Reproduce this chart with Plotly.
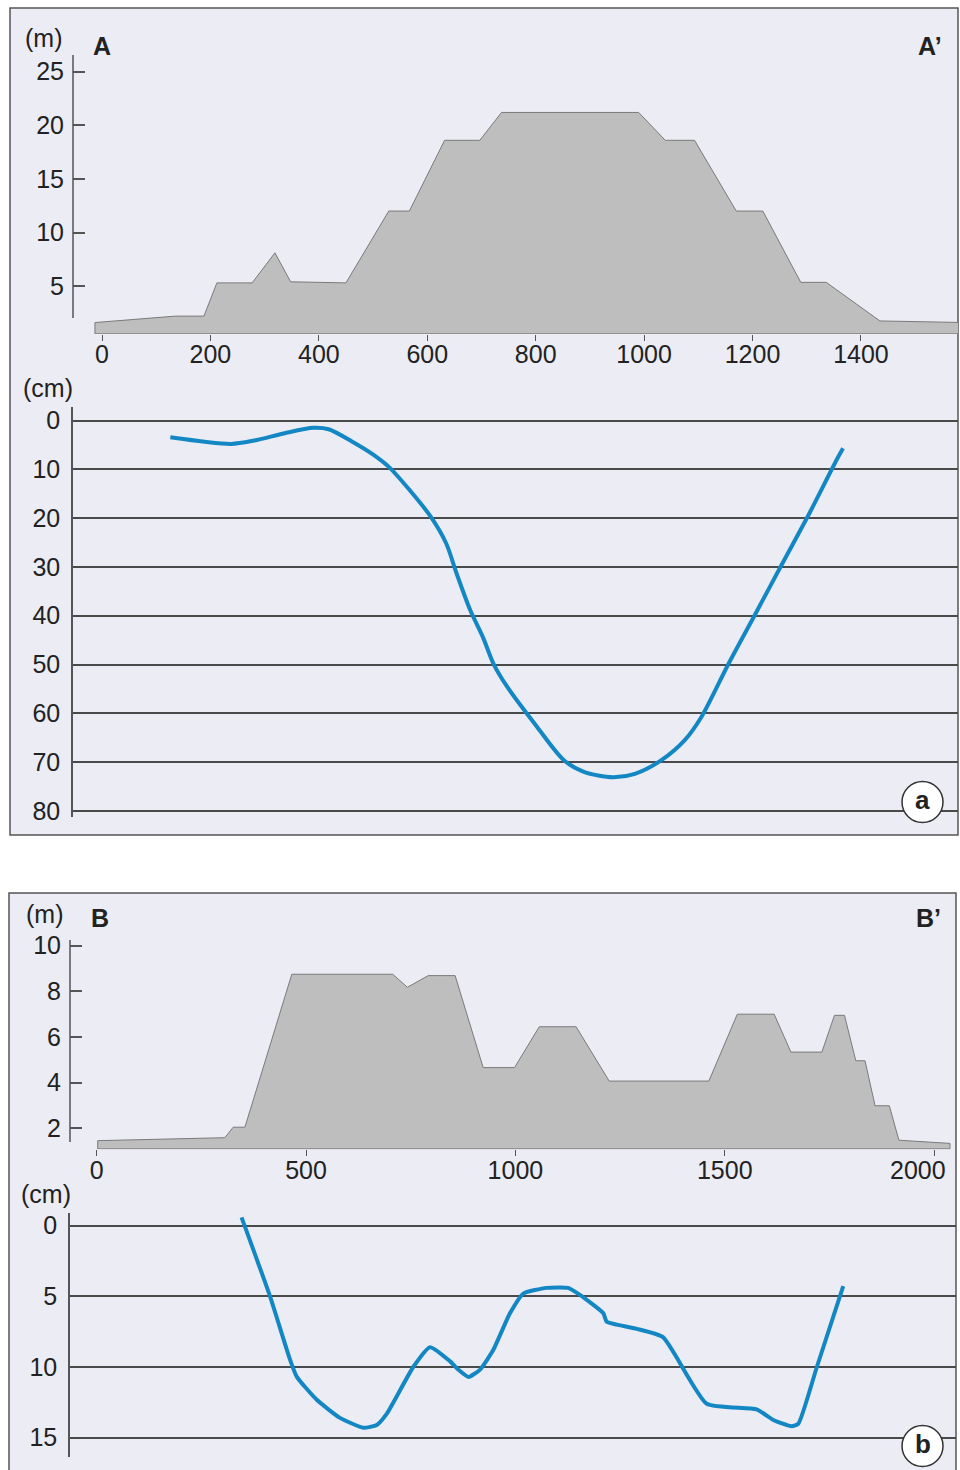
import plotly.graph_objects as go

W, H = 960, 1470

# ---------------- data ----------------
# Panel a, terrain profile A-A' (m)
a_prof_x = [-13, 136, 188, 212, 277, 319, 348, 450, 529, 567, 632, 697, 737, 990,
            1039, 1093, 1170, 1219, 1289, 1336, 1435, 1593]
a_prof_y = [1.6, 2.2, 2.2, 5.3, 5.3, 8.1, 5.4, 5.3, 12.0, 12.0, 18.6, 18.6, 21.2, 21.2,
            18.6, 18.6, 12.0, 12.0, 5.35, 5.35, 1.75, 1.6]
a_base = 0.55
# Panel a, depth curve (cm)
a_dep_x = [126, 238, 281, 337, 390, 418, 461, 499, 530, 567, 607, 635, 654, 679, 703,
           722, 747, 802, 852, 889, 942, 983, 1032, 1075, 1106, 1156, 1206, 1255, 1305,
           1355, 1367]
a_dep_y = [3.45, 4.8, 4.1, 2.6, 1.5, 1.8, 4.3, 6.9, 9.6, 14.2, 19.8, 25.2, 31.3, 38.8, 44.5,
           49.8, 54.5, 62.7, 69.6, 72.0, 73.1, 72.4, 69.6, 65.5, 60.7, 49.8, 39.5, 29.3, 19.0,
           8.1, 5.7]
a_m_ticks = [5, 10, 15, 20, 25]
a_x_ticks = [0, 200, 400, 600, 800, 1000, 1200, 1400]
a_cm_ticks = [0, 10, 20, 30, 40, 50, 60, 70, 80]

# Panel b, terrain profile B-B' (m)
b_prof_x = [2.4, 306, 326, 354, 466, 707, 742, 792, 856, 923, 998, 1057, 1145, 1224, 1462,
            1530, 1618, 1658, 1732, 1762, 1786, 1813, 1835, 1859, 1893, 1916, 2038]
b_prof_y = [1.46, 1.59, 2.05, 2.05, 8.75, 8.75, 8.18, 8.69, 8.69, 4.66, 4.66, 6.45, 6.45,
            4.07, 4.07, 7.0, 7.0, 5.34, 5.34, 6.95, 6.95, 4.96, 4.96, 2.99, 2.99, 1.48, 1.34]
b_base = 1.1
# Panel b, depth curve (cm)
b_dep_x = [346, 414, 462, 478, 525, 581, 637, 669, 693, 756, 796, 844, 864, 888, 915, 947,
           987, 1019, 1075, 1126, 1154, 1210, 1218, 1242, 1290, 1353, 1457, 1576, 1616, 1660,
           1676, 1720, 1783]
b_dep_y = [-0.59, 5.0, 9.5, 10.7, 12.3, 13.6, 14.3, 14.1, 13.3, 10.0, 8.6, 9.6, 10.2, 10.7,
           10.2, 8.8, 6.2, 4.8, 4.4, 4.4, 4.9, 6.2, 6.8, 7.0, 7.3, 7.9, 12.6, 13.0, 13.75,
           14.2, 14.0, 10.0, 4.27]
b_m_ticks = [2, 4, 6, 8, 10]
b_x_ticks = [0, 500, 1000, 1500, 2000]
b_cm_ticks = [0, 5, 10, 15]

# ---------------- style ----------------
BG = "#ebecf4"
FILL = "#bebebe"
EDGE = "#7a7a7a"
BLUE = "#1387c4"
TXT = "#222222"
AX = "#555555"
FONT = "Liberation Sans, Arial, sans-serif"
FS = 25


def fx(px):
    return px / W


def fy(py):
    return 1 - py / H


fig = go.Figure()

fig.add_trace(go.Scatter(
    x=a_prof_x + [a_prof_x[-1], a_prof_x[0], a_prof_x[0]],
    y=a_prof_y + [a_base, a_base, a_prof_y[0]],
    fill="toself", fillcolor=FILL, mode="lines",
    line=dict(color=EDGE, width=1), xaxis="x", yaxis="y", hoverinfo="skip"))
fig.add_trace(go.Scatter(
    x=a_dep_x, y=a_dep_y, mode="lines",
    line=dict(color=BLUE, width=4, shape="spline", smoothing=0.8),
    xaxis="x2", yaxis="y2", hoverinfo="skip"))
fig.add_trace(go.Scatter(
    x=b_prof_x + [b_prof_x[-1], b_prof_x[0], b_prof_x[0]],
    y=b_prof_y + [b_base, b_base, b_prof_y[0]],
    fill="toself", fillcolor=FILL, mode="lines",
    line=dict(color=EDGE, width=1), xaxis="x3", yaxis="y3", hoverinfo="skip"))
fig.add_trace(go.Scatter(
    x=b_dep_x, y=b_dep_y, mode="lines",
    line=dict(color=BLUE, width=4, shape="spline", smoothing=0.5),
    xaxis="x4", yaxis="y4", hoverinfo="skip"))

# axis scales (pixel calibration): px of x=0, px per unit
ax_a0, ax_a_scale = 102.0, 0.5421
ax_b0, ax_b_scale = 96.7, 0.4187

xa_dom = [fx(73), fx(958)]
xa_range = [(73 - ax_a0) / ax_a_scale, (958 - ax_a0) / ax_a_scale]
xb_dom = [fx(70), fx(956)]
xb_range = [(70 - ax_b0) / ax_b_scale, (956 - ax_b0) / ax_b_scale]

# last tick label of panel b sits left of its tick (it would cross the frame)
b_x_text = [str(v) for v in b_x_ticks[:-1]] + [""]

tickfont = dict(family=FONT, size=FS, color=TXT)
base_ax = dict(showgrid=False, zeroline=False, showline=False, automargin=False)
hidden = dict(base_ax, showticklabels=False, ticks="")

fig.update_layout(
    width=W, height=H, margin=dict(l=0, r=0, t=0, b=0, pad=0, autoexpand=False),
    paper_bgcolor="white", plot_bgcolor="rgba(0,0,0,0)", showlegend=False,
    font=dict(family=FONT, color=TXT),
    xaxis=dict(base_ax, domain=xa_dom, range=xa_range, anchor="y", tickvals=a_x_ticks,
               ticks="outside", ticklen=6, tickcolor=AX, tickfont=tickfont,
               ticklabelstandoff=-8),
    yaxis=dict(base_ax, domain=[fy(334), fy(55)],
               range=[(339.7 - 334) / 10.72, (339.7 - 55) / 10.72],
               anchor="x", tickvals=a_m_ticks, ticks="inside", ticklen=12, tickwidth=1.5,
               tickcolor=AX, tickfont=tickfont, ticklabelstandoff=8),
    xaxis2=dict(hidden, domain=xa_dom, range=xa_range, anchor="y2"),
    yaxis2=dict(base_ax, domain=[fy(817), fy(407)],
                range=[(817 - 420.5) / 4.88, (407 - 420.5) / 4.88],
                anchor="x2", tickvals=a_cm_ticks, ticks="", tickfont=tickfont,
                showgrid=True, gridcolor="#4a4a4a", gridwidth=1.6,
                showline=True, linecolor=AX, linewidth=1.5, ticklabelstandoff=6),
    xaxis3=dict(base_ax, domain=xb_dom, range=xb_range, anchor="y3", tickvals=b_x_ticks,
                ticktext=b_x_text,
                ticks="outside", ticklen=6, tickcolor=AX, tickfont=tickfont,
                ticklabelstandoff=-7),
    yaxis3=dict(base_ax, domain=[fy(1149.3), fy(940)],
                range=[(1174 - 1149.3) / 22.83, (1174 - 940) / 22.83],
                anchor="x3", tickvals=b_m_ticks, ticks="inside", ticklen=12, tickwidth=1.5,
                tickcolor=AX, tickfont=tickfont, ticklabelstandoff=8),
    xaxis4=dict(hidden, domain=xb_dom, range=xb_range, anchor="y4"),
    yaxis4=dict(base_ax, domain=[fy(1456.7), fy(1212.7)],
                range=[(1456.7 - 1225.7) / 14.13, (1212.7 - 1225.7) / 14.13],
                anchor="x4", tickvals=b_cm_ticks, ticks="", tickfont=tickfont,
                showgrid=True, gridcolor="#4a4a4a", gridwidth=1.6,
                showline=True, linecolor=AX, linewidth=1.5, ticklabelstandoff=6),
)

shapes = []
shapes.append(dict(type="rect", xref="paper", yref="paper", x0=fx(10), x1=fx(958),
                   y0=fy(835), y1=fy(8), fillcolor=BG, line=dict(color=AX, width=1.5),
                   layer="below"))
shapes.append(dict(type="rect", xref="paper", yref="paper", x0=fx(9), x1=fx(956),
                   y0=fy(1480), y1=fy(893), fillcolor=BG, line=dict(color=AX, width=1.5),
                   layer="below"))
shapes.append(dict(type="line", xref="paper", yref="paper", x0=fx(73), x1=fx(73),
                   y0=fy(318), y1=fy(55), line=dict(color=AX, width=1.5)))
shapes.append(dict(type="line", xref="paper", yref="paper", x0=fx(70), x1=fx(70),
                   y0=fy(1142), y1=fy(940), line=dict(color=AX, width=1.5)))
for cx, cy in [(922.5, 802), (922.5, 1446)]:
    shapes.append(dict(type="circle", xref="paper", yref="paper",
                       x0=fx(cx - 20.5), x1=fx(cx + 20.5), y0=fy(cy + 20.5), y1=fy(cy - 20.5),
                       fillcolor="white", line=dict(color="#333333", width=1.5)))
fig.update_layout(shapes=shapes)

ann = []


def label(text, px, py, size=FS, bold=False):
    ann.append(dict(text=f"<b>{text}</b>" if bold else text, x=fx(px), y=fy(py),
                    xref="paper", yref="paper", showarrow=False,
                    xanchor="center", yanchor="middle",
                    font=dict(family=FONT, size=size, color=TXT)))


label("(m)", 43, 38)
label("A", 102, 46, bold=True)
label("A’", 930, 46, bold=True)
label("(cm)", 48, 388)
label("a", 922.5, 800, size=26, bold=True)
label("(m)", 44, 914)
label("B", 100, 918, bold=True)
label("B’", 928, 918, bold=True)
label("(cm)", 46, 1194)
label("b", 922.5, 1444, size=26, bold=True)
# last tick label of panel b, shifted left of its tick
ann.append(dict(text=str(b_x_ticks[-1]), x=b_x_ticks[-1], y=fy(1170), xref="x3", yref="paper",
                xanchor="right", yanchor="middle", xshift=14, showarrow=False,
                font=dict(family=FONT, size=FS, color=TXT)))
fig.update_layout(annotations=ann)

fig.write_html("out.html")
